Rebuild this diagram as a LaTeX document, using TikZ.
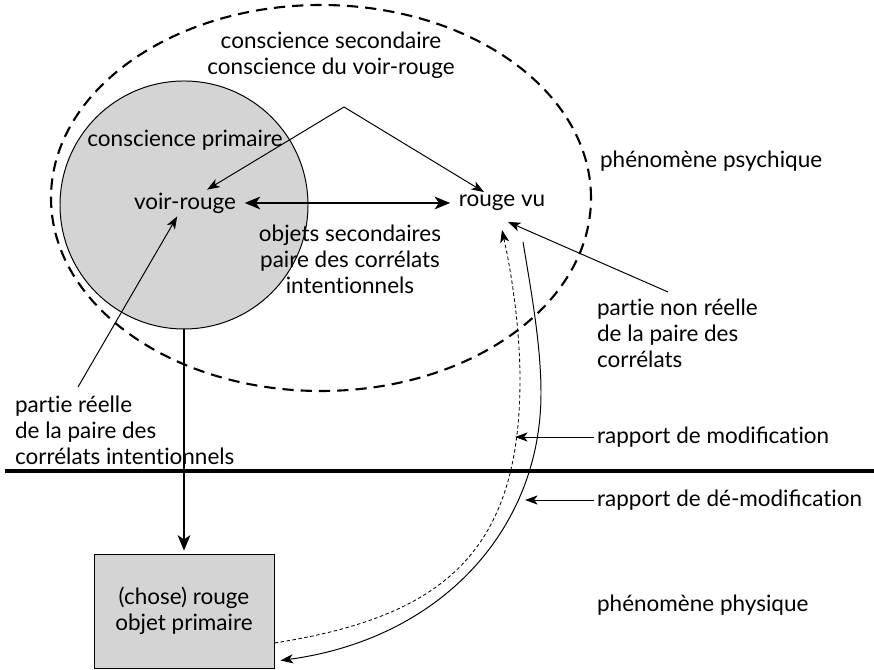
\documentclass[tikz,border=0pt]{standalone}
\usepackage{fontspec}
\setmainfont{Lato}[Ligatures=NoCommon]
\usetikzlibrary{arrows.meta}

\definecolor{shade}{gray}{0.83}

\tikzset{
  txt/.style={inner sep=2pt, font=\fontsize{16}{18.5}\selectfont},
  thin arrow/.style={line width=0.7pt, -{Stealth[length=9pt, width=6.5pt, inset=2.5pt]}},
  thick arrow/.style={line width=1.5pt, -{Stealth[length=11pt, width=9pt, inset=3pt]}},
}

\begin{document}
\begin{tikzpicture}

\useasboundingbox (0,0) rectangle (21.85,16.75);

%% psychic phenomenon
\draw [line width=1.5pt, dash pattern=on 8pt off 5pt] (8.025,11.8) ellipse [x radius=6.75, y radius=4.825];
\node [draw, circle, fill=shade, line width=0.7pt, minimum size=6.2cm] (prim) at (4.6,11.625) {};

\node [txt, align=center] (sec) at (8.275,15.375) {conscience secondaire\\conscience du voir-rouge};
\node [txt] (cprim) at (4.625,13.25) {conscience primaire};
\node [txt] (vr) at (4.625,11.675) {voir-rouge};
\node [txt] (rv) at (12.55,11.675) {rouge vu};
\node [txt, align=center] (obj) at (8.75,10.275) {objets secondaires\\paire des corrélats\\intentionnels};
\node [txt, anchor=west] (psy) at (14.925,12.725) {phénomène psychique};

\coordinate (top) at (8.6,14.075);
\draw [thin arrow] (top) -- (vr);
\draw [thin arrow] (top) -- (rv);
\draw [line width=1.5pt, {Stealth[length=11pt, width=9pt, inset=3pt]}-{Stealth[length=11pt, width=9pt, inset=3pt]}, shorten <=4pt, shorten >=4pt] (vr.east) -- (rv.west);

%% real part
\node [txt, anchor=west, align=left] (reel) at (0.3,6.0) {partie réelle\\de la paire des\\corrélats intentionnels};
\coordinate (reeltop) at (1.95,7.075);
\draw [thin arrow] (reeltop) -- (vr);

%% non real part
\node [txt, anchor=west, align=left] (nonreel) at (14.85,8.425) {partie non réelle\\de la paire des\\corrélats};
\coordinate (nonreeltop) at (16.7,9.45);
\draw [thin arrow] (nonreeltop) -- ([shift={(0.15,-0.2)}]rv.south);

%% border between the two phenomena
\draw [line width=2.8pt] (0.125,4.975) -- (21.85,4.975);

%% physical phenomenon
\node [draw, fill=shade, line width=0.7pt, minimum width=4.5cm, minimum height=2.85cm, txt, align=center] (chose) at (4.6,1.475) {(chose) rouge\\objet primaire};
\node [txt, anchor=west] (phys) at (14.85,1.625) {phénomène physique};
\draw [thick arrow, shorten >=2pt] (prim.south) -- (chose.north);

%% modification and de-modification
\draw [line width=0.6pt, dash pattern=on 2.5pt off 1.8pt, -{Stealth[length=9pt, width=6.5pt, inset=2.5pt]}]
  ([yshift=-0.8cm]chose.east) .. controls (11.0,1.325) and (13.0,2.875) .. (13.0,7.25)
  .. controls (13.0,8.5) and (12.8,9.875) .. ([yshift=-0.4cm]rv.south);
\draw [thin arrow]
  ([shift={(0.525,-0.7)}]rv.south) .. controls (13.275,9.5) and (13.525,8.125) .. (13.525,6.925)
  .. controls (13.525,3.5) and (11.0,0.775) .. ([shift={(0.15,0.2)}]chose.south east);

\node [txt, anchor=west] (mod) at (14.85,5.825) {rapport de modiﬁcation};
\coordinate (modtip) at (12.875,5.825);
\draw [thin arrow] (mod.west) -- (modtip);

\node [txt, anchor=west] (demod) at (14.85,4.25) {rapport de dé-modiﬁcation};
\coordinate (demodtip) at (13.125,4.25);
\draw [thin arrow] (demod.west) -- (demodtip);

\end{tikzpicture}
\end{document}
